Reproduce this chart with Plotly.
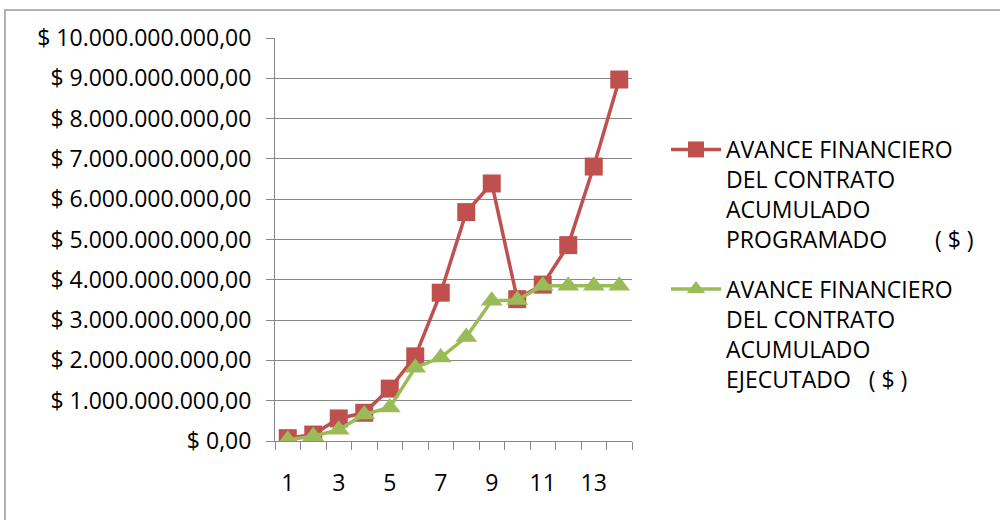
import plotly.graph_objects as go

periods = list(range(1, 15))
programado = [70000000, 160000000, 560000000, 700000000, 1300000000, 2100000000,
              3680000000, 5680000000, 6390000000, 3520000000, 3880000000,
              4860000000, 6810000000, 8970000000]
ejecutado = [30000000, 120000000, 280000000, 660000000, 830000000, 1820000000,
             2070000000, 2580000000, 3480000000, 3500000000, 3850000000,
             3850000000, 3850000000, 3850000000]
name_prog = "AVANCE FINANCIERO<br>DEL CONTRATO<br>ACUMULADO<br>PROGRAMADO\u00a0\u00a0\u00a0\u00a0\u00a0\u00a0\u00a0\u00a0( $ )"
name_ejec = "AVANCE FINANCIERO<br>DEL CONTRATO<br>ACUMULADO<br>EJECUTADO\u00a0\u00a0\u00a0( $ )"

RED = "#C0504D"
GREEN = "#9BBB59"
GRID = "#888888"
FONT = "Open Sans"
FS = 23

fig = go.Figure()
fig.add_trace(go.Scatter(
    x=periods, y=programado, name=name_prog, mode="lines+markers",
    line=dict(color=RED, width=3.5),
    marker=dict(symbol="square", size=18, color=RED),
    legendgroup="a",
))
fig.add_trace(go.Scatter(
    x=periods, y=ejecutado, name=name_ejec, mode="lines+markers",
    line=dict(color=GREEN, width=3.5),
    marker=dict(symbol="triangle-up", size=19, color=GREEN),
    legendgroup="b",
))

L, R, T, B = 275, 368, 38, 79
W, H = 1000, 520
pw, ph = W - L - R, H - T - B

fig.update_layout(
    width=W, height=H,
    margin=dict(l=L, r=R, t=T, b=B, pad=0),
    paper_bgcolor="white", plot_bgcolor="white",
    separators=",.",
    font=dict(family=FONT, size=FS, color="#000000"),
    showlegend=True,
    legend=dict(
        x=(666 - L) / pw, y=1 - (128 - T) / ph, xanchor="left", yanchor="top",
        font=dict(family=FONT, size=FS, color="#000000"),
        valign="top", tracegroupgap=17, itemwidth=50,
        bgcolor="rgba(0,0,0,0)",
    ),
    xaxis=dict(
        range=[0.5, 14.5], tickmode="linear", tick0=1, dtick=2,
        showgrid=False, zeroline=False, showline=True, linecolor=GRID, linewidth=1,
        ticks="", ticklabelstandoff=21,
        tickfont=dict(family=FONT, size=FS, color="#000000"),
        minor=dict(ticks="outside", tick0=0.5, dtick=1, ticklen=8, tickcolor=GRID, showgrid=False),
    ),
    yaxis=dict(
        range=[0, 10000000000], tickmode="linear", tick0=0, dtick=1000000000,
        tickprefix="$ ", tickformat=",.2f",
        showgrid=True, gridcolor=GRID, gridwidth=1,
        zeroline=False, showline=True, linecolor=GRID, linewidth=1,
        ticks="outside", ticklen=8, tickcolor=GRID, ticklabelstandoff=10,
        tickfont=dict(family=FONT, size=FS, color="#000000"),
    ),
    shapes=[dict(
        type="rect", xref="paper", yref="paper",
        x0=(5 - L) / pw, x1=(1005 - L) / pw,
        y0=1 - (525 - T) / ph, y1=1 - (10 - T) / ph,
        line=dict(color="#999999", width=1.5), fillcolor="rgba(0,0,0,0)",
        layer="below",
    )],
)

fig.write_html("out.html", config={"displayModeBar": False},
               post_script="document.body.style.margin='0';")
